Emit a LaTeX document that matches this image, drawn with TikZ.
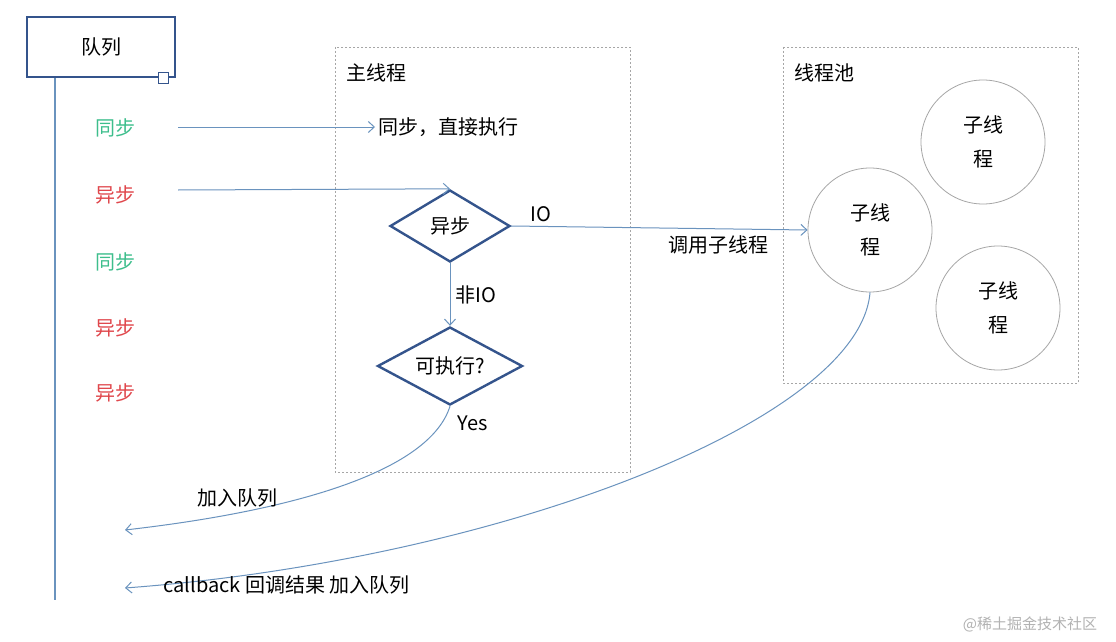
\documentclass[tikz,border=0pt]{standalone}
\usepackage{fontspec}
\setmainfont{Noto Sans CJK SC}
\usetikzlibrary{shapes.geometric,arrows.meta}
\definecolor{dk}{HTML}{34548C}
\definecolor{ln}{HTML}{6A93BE}
\definecolor{gr}{HTML}{3DBE8C}
\definecolor{rd}{HTML}{E0474C}
\begin{document}
\begin{tikzpicture}[x=1pt,y=-1pt,
  lbl/.style={font=\fontsize{20}{24}\selectfont},
  conn/.style={draw=ln,line width=1pt,-{Straight Barb[length=6pt,width=11pt]}},
  dia/.style={diamond,draw=dk,line width=2.4pt,aspect=1.7,inner sep=0pt,font=\fontsize{20}{24}\selectfont},
  circ/.style={circle,draw=gray!70,line width=0.8pt,minimum size=124pt,align=center,font=\fontsize{20}{34}\selectfont},
  box/.style={draw=gray!70,dash pattern=on 2pt off 2pt,line width=0.7pt}]
\useasboundingbox (0,0) rectangle (1116,642);
\fill[white] (0,0) rectangle (1116,642);
\node[draw=dk,line width=2.8pt,minimum width=148pt,minimum height=60pt,lbl] (q) at (101,47) {队列};
\node[draw=dk,fill=white,line width=1pt,minimum size=10pt,inner sep=0pt] (qs) at (163,78) {};
\coordinate (vt) at (55,78); \coordinate (vb) at (55,600);
\draw[ln,line width=1.3pt] (vt) -- (vb);
\node[lbl,text=gr] (s1) at (115,128) {同步};
\node[lbl,text=rd] (a1) at (115,195) {异步};
\node[lbl,text=gr] (s2) at (115,262) {同步};
\node[lbl,text=rd] (a2) at (115,328) {异步};
\node[lbl,text=rd] (a3) at (115,393) {异步};
\draw[box] (335,47) rectangle (630,472);
\node[lbl,anchor=west] (mt) at (343,73) {主线程};
\draw[box] (783,47) rectangle (1078,383);
\node[lbl,anchor=west] (tp) at (791,73) {线程池};
\node[lbl,anchor=west] (direct) at (375,127) {同步，直接执行};
\node[dia,minimum width=120pt,minimum height=72pt] (d1) at (450,226) {异步};
\node[dia,minimum width=145pt,minimum height=78pt] (d2) at (450,366) {可执行?};
\node[circ] (c1) at (870,230) {子线\\程};
\node[circ] (c2) at (983,142) {子线\\程};
\node[circ] (c3) at (998,308) {子线\\程};
\coordinate (s1e) at (178,127);
\coordinate (a1e) at (178,190);
\draw[conn] (s1e) -- (direct.west);
\draw[conn] (a1e) -- (d1.north);
\draw[conn] (d1.east) -- (c1.west) node[pos=0.1,above=1pt,lbl,text=black]{IO} node[pos=0.7,below=3pt,lbl,text=black]{调用子线程};
\draw[conn] (d1.south) -- (d2.north) node[midway,right=2pt,lbl,text=black]{非IO};
\node[lbl] (yes) at (473,423) {Yes};
\coordinate (q1) at (125,530);
\coordinate (q2) at (125,588);
\draw[conn] (d2.south) .. controls (430,470) and (300,510) .. (q1);
\node[lbl] (jl) at (237,498) {加入队列};
\draw[conn] (c1.south) .. controls (860,420) and (500,560) .. (q2);
\node[lbl,anchor=west] (cb) at (160,585) {callback 回调结果 加入队列};
\node[font=\fontsize{15}{17}\selectfont,text=gray!60] (wm) at (1030,624) {@稀土掘金技术社区};
\end{tikzpicture}
\end{document}
